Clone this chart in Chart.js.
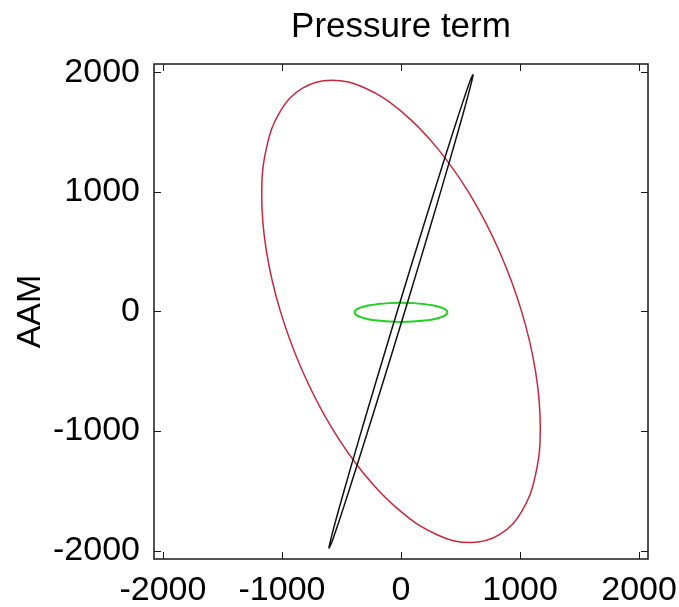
<!DOCTYPE html>
<html>
<head>
<meta charset="utf-8">
<script src="https://cdn.jsdelivr.net/npm/chart.js@4/dist/chart.umd.min.js"></script>
<style>
  html, body { margin: 0; padding: 0; background: #fff; }
  #wrap { width: 679px; height: 607px; }
</style>
</head>
<body>
<div id="wrap"><canvas id="chart" width="679" height="607"></canvas></div>
<script>
// values
const TITLE = 'Pressure term';
const Y_LABEL = 'AAM';
const TICKS = [-2000, -1000, 0, 1000, 2000];

// red ellipse
const redX = [1170, 1130, 1013, 827, 585, 303, 0, -303, -585, -827, -1013, -1130,
              -1170, -1130, -1013, -827, -585, -303, 0, 303, 585, 827, 1013, 1130];
const redY = [-967, -1367, -1674, -1867, -1933, -1867, -1674, -1367, -967, -500, 0, 500,
              967, 1367, 1674, 1867, 1933, 1867, 1674, 1367, 967, 500, 0, -500];

// black (thin) ellipse
const blackX = [605, 584, 524, 428, 303, 157, 0, -157, -303, -428, -524, -584,
                -605, -584, -524, -428, -303, -157, 0, 157, 303, 428, 524, 584];
const blackY = [1977, 1883, 1661, 1325, 899, 412, -104, -612, -1078, -1471, -1764, -1937,
                -1977, -1883, -1661, -1325, -899, -412, 104, 612, 1078, 1471, 1764, 1937];

// green ellipse
const greenX = [390, 377, 338, 276, 195, 101, 0, -101, -195, -276, -338, -377,
                -390, -377, -338, -276, -195, -101, 0, 101, 195, 276, 338, 377];
const greenY = [-8, 13, 32, 49, 61, 69, 72, 69, 61, 49, 32, 13,
                -8, -29, -48, -65, -77, -85, -88, -85, -77, -65, -48, -29];

// closed curve: one extra point on each side gives the spline smooth joins,
// the two outer segments are hidden below
function closedPoints(xs, ys) {
    const pts = xs.map((x, i) => ({ x: x, y: ys[i] }));
    const n = pts.length;
    return [pts[n - 1]].concat(pts, [pts[0], pts[1]]);
}

function hideEnds(n) {
    return {
        borderColor: ctx => (ctx.p0DataIndex === 0 || ctx.p1DataIndex === n + 2) ? 'rgba(0,0,0,0)' : undefined
    };
}

const FONT = "'Liberation Sans', Arial, sans-serif";

// box and inward ticks on all four sides, like the original
const boxTicks = {
    id: 'boxTicks',
    afterLayout(chart) {
        const a = chart.chartArea;
        if (chart.titleBlock) {
            chart.titleBlock.left = a.left;
            chart.titleBlock.right = a.right;
        }
    },
    afterDraw(chart) {
        const ctx = chart.ctx;
        const a = chart.chartArea;
        const xs = chart.scales.x, ys = chart.scales.y;
        const len = 7;
        ctx.save();
        ctx.strokeStyle = '#1a1a1a';
        ctx.lineWidth = 1.5;
        ctx.strokeRect(a.left, a.top, a.right - a.left, a.bottom - a.top);
        ctx.beginPath();
        TICKS.forEach(v => {
            const px = Math.round(xs.getPixelForValue(v)) + 0.5;
            ctx.moveTo(px, a.bottom); ctx.lineTo(px, a.bottom - len);
            ctx.moveTo(px, a.top); ctx.lineTo(px, a.top + len);
            const py = Math.round(ys.getPixelForValue(v)) + 0.5;
            ctx.moveTo(a.left, py); ctx.lineTo(a.left + len, py);
            ctx.moveTo(a.right, py); ctx.lineTo(a.right - len, py);
        });
        ctx.lineWidth = 1;
        ctx.stroke();
        ctx.restore();
    }
};

new Chart(document.getElementById('chart').getContext('2d'), {
    type: 'scatter',
    data: {
        datasets: [
            {
                label: 'black',
                data: closedPoints(blackX, blackY),
                showLine: true,
                borderColor: '#111111',
                borderWidth: 1.5,
                pointRadius: 0,
                tension: 0.3,
                segment: hideEnds(blackX.length)
            },
            {
                label: 'green',
                data: closedPoints(greenX, greenY),
                showLine: true,
                borderColor: '#22d022',
                borderWidth: 2,
                pointRadius: 0,
                tension: 0.4,
                segment: hideEnds(greenX.length)
            },
            {
                label: 'red',
                data: closedPoints(redX, redY),
                showLine: true,
                borderColor: '#c8283c',
                borderWidth: 1.5,
                pointRadius: 0,
                tension: 0.4,
                segment: hideEnds(redX.length)
            }
        ]
    },
    options: {
        responsive: false,
        animation: false,
        layout: { padding: { left: 0, right: 31, top: 0, bottom: 0 } },
        plugins: {
            legend: { display: false },
            tooltip: { enabled: false },
            title: {
                display: true,
                text: TITLE,
                color: '#000',
                font: { family: FONT, size: 35, weight: 'normal', lineHeight: 1.2 },
                padding: { top: 6, bottom: 16 }
            }
        },
        scales: {
            x: {
                type: 'linear',
                min: -2075,
                max: 2075,
                afterFit(scale) {
                    scale.height = 48;
                    scale.paddingLeft = 0;
                    scale.paddingRight = 0;
                },
                afterBuildTicks(scale) { scale.ticks = TICKS.map(v => ({ value: v })); },
                grid: { display: false, drawTicks: false },
                border: { display: false },
                ticks: {
                    color: '#000',
                    padding: 11,
                    maxRotation: 0,
                    font: { family: FONT, size: 34 },
                    callback: v => String(v)
                }
            },
            y: {
                type: 'linear',
                min: -2070,
                max: 2068,
                afterFit(scale) {
                    scale.width = 154;
                    scale.paddingTop = 0;
                    scale.paddingBottom = 0;
                },
                afterBuildTicks(scale) { scale.ticks = TICKS.map(v => ({ value: v })); },
                grid: { display: false, drawTicks: false },
                border: { display: false },
                ticks: {
                    color: '#000',
                    padding: 14,
                    font: { family: FONT, size: 34 },
                    callback: v => String(v)
                },
                title: {
                    display: true,
                    text: Y_LABEL,
                    color: '#000',
                    padding: { top: 10, bottom: 0 },
                    font: { family: FONT, size: 34, lineHeight: 1.2 }
                }
            }
        }
    },
    plugins: [boxTicks]
});
</script>
</body>
</html>
